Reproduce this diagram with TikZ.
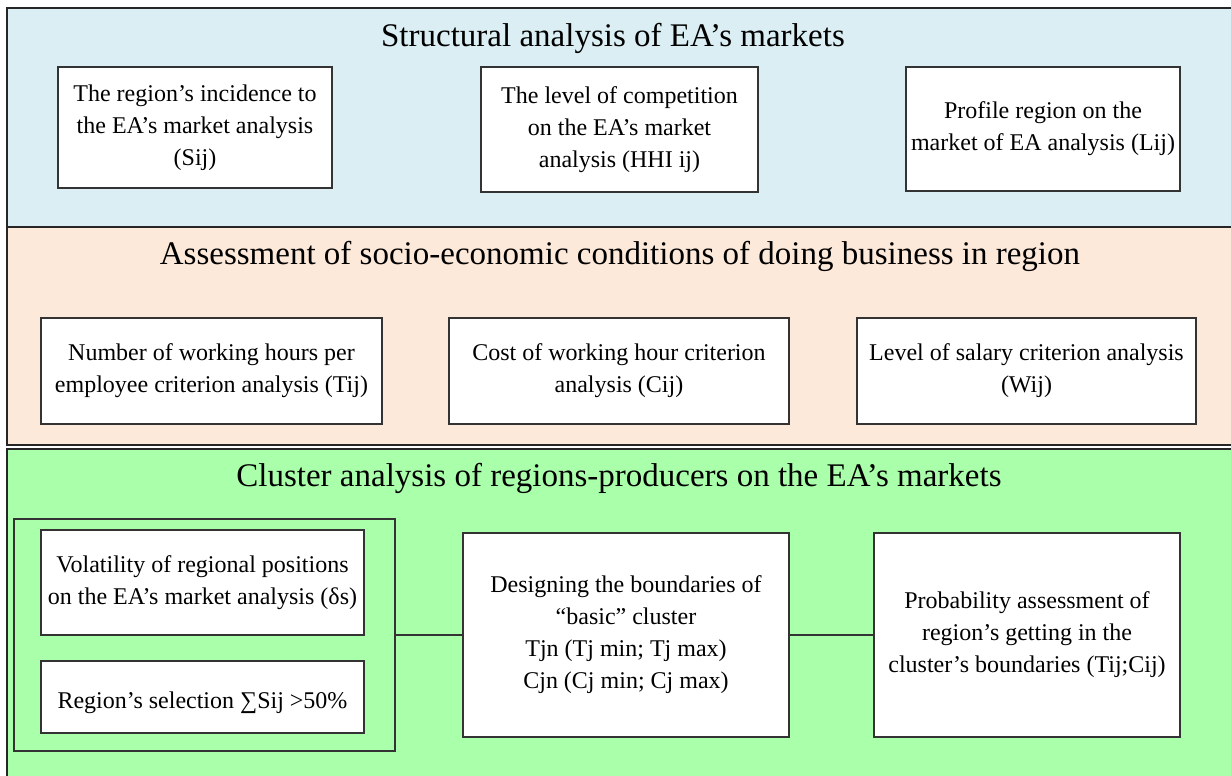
\documentclass[tikz,border=0pt]{standalone}
\usepackage{fontspec}
\setmainfont{Liberation Serif}
\definecolor{bluebg}{HTML}{DAEEF3}
\definecolor{peachbg}{HTML}{FDE9D9}
\definecolor{greenbg}{HTML}{AAFFAA}
\definecolor{edge}{HTML}{333333}
\begin{document}
\begin{tikzpicture}[x=1pt,y=-1pt,
  panel/.style={draw=black!85, line width=1.2pt},
  box/.style={draw=edge, line width=1.2pt, fill=white, rectangle, inner sep=0pt,
    align=center, font=\fontsize{24}{32}\selectfont,
    execute at begin node={\rule{0pt}{28pt}}},
  grp/.style={draw=edge, line width=1.2pt, rectangle, inner sep=0pt},
  ttl/.style={font=\fontsize{33}{40}\selectfont, inner sep=0pt, anchor=base},
  link/.style={draw=edge, line width=1.2pt}]
\useasboundingbox (0,0) rectangle (1231,776);
\fill[white] (0,0) rectangle (1231,776);
% panels
\draw[panel, fill=bluebg] (7,8) rectangle (1240,227);
\draw[panel, fill=peachbg] (7,227) rectangle (1240,445);
\draw[panel, fill=greenbg] (7,449) rectangle (1240,790);
% titles
\node[ttl] (t1) at (613,47) {Structural analysis of EA’s markets};
\node[ttl] (t2) at (620,264) {Assessment of socio-economic conditions of doing business in region};
\node[ttl] (t3) at (619,486) {Cluster analysis of regions-producers on the EA’s markets};
% top row
\node[box, minimum width=274pt, minimum height=121pt] (a1) at (195,127.5)
  {The region’s incidence to\\the EA’s market analysis\\(Sij)};
\node[box, minimum width=277pt, minimum height=125pt] (a2) at (619.5,129.5)
  {The level of competition\\on the EA’s market\\analysis (HHI ij)};
\node[box, minimum width=274pt, minimum height=124pt] (a3) at (1043,129)
  {Profile region on the\\market of EA analysis (Lij)};
% middle row
\node[box, minimum width=341pt, minimum height=106pt] (b1) at (211.5,371)
  {Number of working hours per\\employee criterion analysis (Tij)};
\node[box, minimum width=340pt, minimum height=106pt] (b2) at (619,371)
  {Cost of working hour criterion\\analysis (Cij)};
\node[box, minimum width=339pt, minimum height=106pt] (b3) at (1026.5,371)
  {Level of salary criterion analysis\\(Wij)};
% bottom row
\node[grp, minimum width=381pt, minimum height=232pt] (g0) at (204.5,635) {};
\node[box, minimum width=323pt, minimum height=105pt] (g1) at (202.5,582.5)
  {Volatility of regional positions\\on the EA’s market analysis (δs)};
\node[box, minimum width=323pt, minimum height=72pt] (g2) at (202.5,697)
  {Region’s selection ∑Sij >50\%};
\node[box, minimum width=326pt, minimum height=204pt] (g3) at (626,635)
  {Designing the boundaries of\\“basic” cluster\\Tjn (Tj min; Tj max)\\Cjn (Cj min; Cj max)};
\node[box, minimum width=306pt, minimum height=204pt] (g4) at (1027,635)
  {Probability assessment of\\region’s getting in the\\cluster’s boundaries (Tij;Cij)};
\draw[link] (g0.east) -- (g3.west);
\draw[link] (g3.east) -- (g4.west);
\end{tikzpicture}
\end{document}
